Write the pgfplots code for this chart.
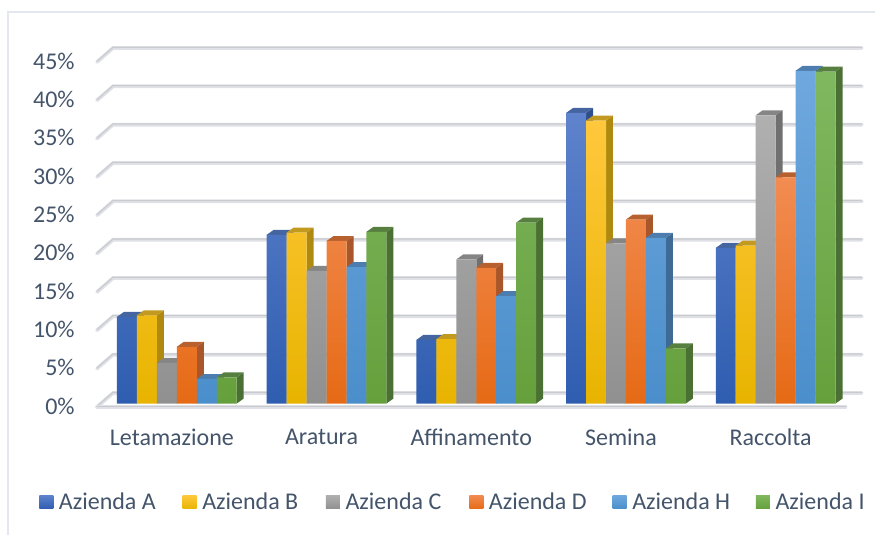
\documentclass[border=0pt]{standalone}
\usepackage{fontspec}
\setmainfont{Carlito}
\usepackage{pgfplots}
\pgfplotsset{compat=1.18}

\definecolor{txt}{HTML}{44546A}
\definecolor{frameline}{HTML}{E4E7EE}
\definecolor{gridlo}{HTML}{DFE1E6}
\definecolor{gridhi}{HTML}{C8CACE}

% front top/mid/bottom, side, roof
\definecolor{Atop}{HTML}{5F83CC}\definecolor{Amid}{HTML}{3D6AC4}\definecolor{Abot}{HTML}{2F5DB0}\definecolor{Aside}{HTML}{2F4F8C}\definecolor{Aroof}{HTML}{44659F}
\definecolor{Btop}{HTML}{FFC83D}\definecolor{Bmid}{HTML}{FFC600}\definecolor{Bbot}{HTML}{E8B400}\definecolor{Bside}{HTML}{B08A10}\definecolor{Broof}{HTML}{C29A20}
\definecolor{Ctop}{HTML}{B0B0B0}\definecolor{Cmid}{HTML}{A8A8A8}\definecolor{Cbot}{HTML}{909090}\definecolor{Cside}{HTML}{707070}\definecolor{Croof}{HTML}{858585}
\definecolor{Dtop}{HTML}{F28C52}\definecolor{Dmid}{HTML}{F97B25}\definecolor{Dbot}{HTML}{E66A15}\definecolor{Dside}{HTML}{A8562A}\definecolor{Droof}{HTML}{B8602E}
\definecolor{Htop}{HTML}{6FA8DE}\definecolor{Hmid}{HTML}{5B9BD5}\definecolor{Hbot}{HTML}{4A8ECB}\definecolor{Hside}{HTML}{3F6A96}\definecolor{Hroof}{HTML}{4C7DAE}
\definecolor{Itop}{HTML}{80B860}\definecolor{Imid}{HTML}{74B24A}\definecolor{Ibot}{HTML}{66A03C}\definecolor{Iside}{HTML}{4A7034}\definecolor{Iroof}{HTML}{578040}

% x unit: 149.7 px per category, y unit: 7.667 px per percent
\newcommand{\dpx}{0.0467}
\newcommand{\dpy}{0.65}

% #1 colour, #2 bar centre offset in px, #3 category, #4 value
\newcommand{\sideroof}[4]{%
  \addplot[forget plot,draw=none,fill=#1side] coordinates {
    ({#3+(#2+10)/150},0) ({#3+(#2+10)/150+\dpx},\dpy)
    ({#3+(#2+10)/150+\dpx},{#4+\dpy}) ({#3+(#2+10)/150},#4)} --cycle;
  \addplot[forget plot,draw=none,fill=#1roof] coordinates {
    ({#3+(#2-10)/150},#4) ({#3+(#2-10)/150+\dpx},{#4+\dpy})
    ({#3+(#2+10)/150+\dpx},{#4+\dpy}) ({#3+(#2+10)/150},#4)} --cycle;
}
% #1 colour, #2 bar centre offset in px, #3..#7 values
\newcommand{\serie}[7]{%
  \sideroof{#1}{#2}{0}{#3}\sideroof{#1}{#2}{1}{#4}\sideroof{#1}{#2}{2}{#5}%
  \sideroof{#1}{#2}{3}{#6}\sideroof{#1}{#2}{4}{#7}%
  \addplot[forget plot,ybar,bar width=14.97pt,bar shift={#2*0.7485pt},draw=none,
    top color=#1top,middle color=#1mid,bottom color=#1bot]
    coordinates {(0,#3)(1,#4)(2,#5)(3,#6)(4,#7)};
}
% legend swatch
\newcommand{\swatch}[1]{%
  \addlegendimage{legend image code/.code={
    \path[draw=none,top color=#1top,middle color=#1mid,bottom color=#1bot]
      (0pt,-5.2pt) rectangle (10.5pt,5.2pt);}}
}
\newcommand{\lab}[1]{\makebox[93pt][l]{\hspace*{2.25pt}#1}}

\begin{document}
\begin{tikzpicture}
\path[use as bounding box] (0,0) rectangle (656.25pt,401.25pt);
\draw[frameline,line width=1.5pt] (6pt,0) -- (6pt,392pt) -- (656.25pt,392pt);
\begin{axis}[
  at={(72.75pt,98.6pt)},anchor=south west,
  scale only axis,width=561.4pt,height=258.75pt,
  xmin=-0.5,xmax=4.5,ymin=0,ymax=45,
  clip=false,
  axis line style={draw=none},
  major tick length=0pt,
  xtick={0,1,2,3,4},
  xticklabels={Letamazione,Aratura,Affinamento,Semina,Raccolta},
  ytick={0,5,...,45},
  yticklabels={0\%,5\%,10\%,15\%,20\%,25\%,30\%,35\%,40\%,45\%},
  tick label style={font=\fontsize{18}{21}\selectfont,text=txt},
  yticklabel style={anchor=east,xshift=-13.25pt,yshift=-1.8pt},
  xticklabel style={anchor=north,yshift=-15.4pt},
  legend columns=6,
  legend style={at={(-43.5pt,-71.25pt)},anchor=west,draw=none,fill=none,
    font=\fontsize{18}{21}\selectfont,text=txt,inner sep=0pt},
]
% back wall grid with its left-hand return
\pgfplotsinvokeforeach{0,5,...,45}{
  \addplot[forget plot,gridlo,line width=2.8pt,line cap=round]
    coordinates {(-0.5,#1-0.45)(-0.393,#1+1.37)(4.609,#1+1.37)};
  \addplot[forget plot,gridhi,line width=0.8pt,line cap=round,yshift=0.5pt]
    coordinates {(-0.5,#1-0.45)(-0.393,#1+1.37)(4.609,#1+1.37)};
}
% floor front edge
\addplot[forget plot,gridlo,line width=2.8pt,line cap=round]
  coordinates {(-0.5,-0.45)(4.5,-0.45)};
\addplot[forget plot,gridhi,line width=0.8pt,line cap=round,yshift=0.5pt]
  coordinates {(-0.5,-0.45)(4.5,-0.45)};

\serie{A}{-45}{11.3}{22.0}{8.3}{37.9}{20.3}
\serie{B}{-25}{11.5}{22.3}{8.4}{36.9}{20.6}
\serie{C}{-5}{5.3}{17.3}{18.8}{20.9}{37.6}
\serie{D}{15}{7.4}{21.2}{17.7}{24.0}{29.5}
\serie{H}{35}{3.2}{17.8}{14.0}{21.6}{43.4}
\serie{I}{55}{3.4}{22.4}{23.6}{7.2}{43.3}

\swatch{A}\addlegendentry{\lab{Azienda A}}
\swatch{B}\addlegendentry{\lab{Azienda B}}
\swatch{C}\addlegendentry{\lab{Azienda C}}
\swatch{D}\addlegendentry{\lab{Azienda D}}
\swatch{H}\addlegendentry{\lab{Azienda H}}
\swatch{I}\addlegendentry{\lab{Azienda I}}
\end{axis}
\end{tikzpicture}
\end{document}
